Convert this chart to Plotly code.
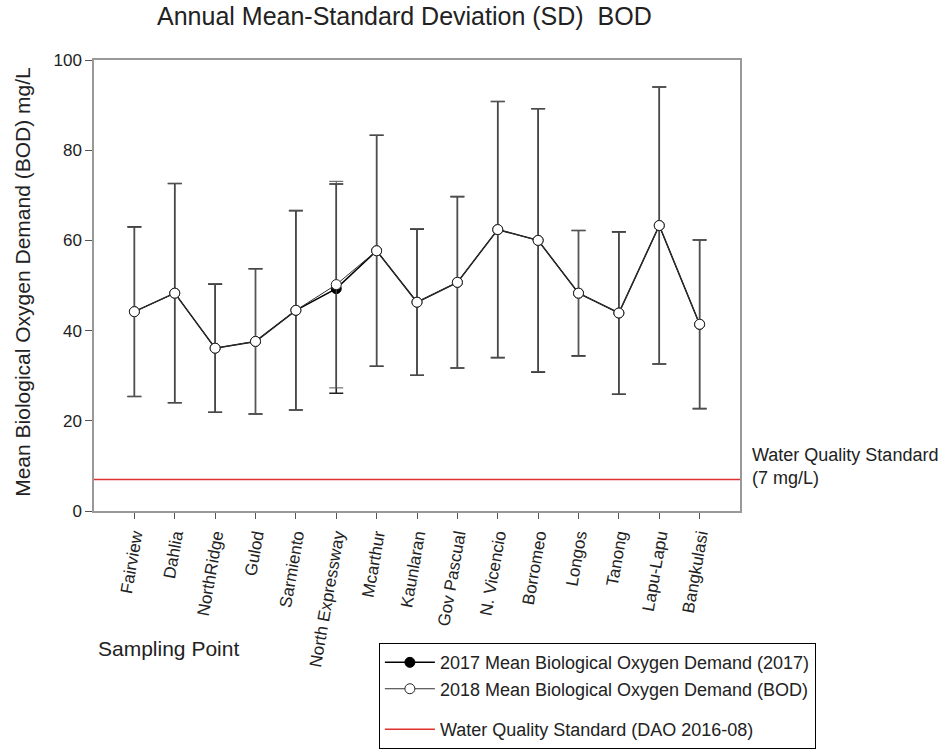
import plotly.graph_objects as go

sites = ["Fairview", "Dahlia", "NorthRidge", "Gulod", "Sarmiento", "North Expressway",
         "Mcarthur", "Kaunlaran", "Gov Pascual", "N. Vicencio", "Borromeo", "Longos",
         "Tanong", "Lapu-Lapu", "Bangkulasi"]

mean_2018 = [44.2, 48.3, 36.1, 37.6, 44.5, 50.2, 57.7, 46.3, 50.7, 62.4, 60.0, 48.3, 43.9, 63.3, 41.4]
sd_2018 = [18.8, 24.3, 14.2, 16.1, 22.1, 22.9, 25.6, 16.2, 19.0, 28.4, 29.2, 13.9, 18.0, 30.7, 18.7]

mean_2017 = [44.2, 48.3, 36.1, 37.6, 44.5, 49.3, 57.7, 46.3, 50.7, 62.4, 60.0, 48.3, 43.9, 63.3, 41.4]
sd_2017 = [18.8, 24.3, 14.2, 16.1, 22.1, 23.2, 25.6, 16.2, 19.0, 28.4, 29.2, 13.9, 18.0, 30.7, 18.7]

standard = 7
y_ticks = [0, 20, 40, 60, 80, 100]

FONT = "Liberation Sans, Arial, sans-serif"
x_idx = list(range(len(sites)))
x_range = [-1, len(sites)]

fig = go.Figure()

fig.add_trace(go.Scatter(
    x=x_idx, y=mean_2017, mode="lines+markers",
    name="2017 Mean Biological Oxygen Demand (2017)",
    line=dict(color="black", width=1.5),
    marker=dict(symbol="circle", size=10, color="black", line=dict(color="black", width=1)),
    error_y=dict(type="data", array=sd_2017, color="#222222", thickness=1.6, width=7),
    legendgroup="a",
))
fig.add_trace(go.Scatter(
    x=x_idx, y=mean_2018, mode="lines+markers",
    name="2018 Mean Biological Oxygen Demand (BOD)",
    line=dict(color="#333333", width=1),
    marker=dict(symbol="circle", size=10, color="white", line=dict(color="#222222", width=1)),
    error_y=dict(type="data", array=sd_2018, color="#555555", thickness=1, width=7),
    legendgroup="a",
))
fig.add_trace(go.Scatter(
    x=x_range, y=[standard, standard], mode="lines",
    name="Water Quality Standard (DAO 2016-08)",
    line=dict(color="#e03030", width=1.5),
    legendgroup="b",
))

fig.update_layout(
    width=947, height=752,
    margin=dict(l=94, r=207, t=60, b=241, autoexpand=False),
    paper_bgcolor="white", plot_bgcolor="white",
    font=dict(family=FONT, size=17, color="#222222"),
    title=dict(text="Annual Mean-Standard Deviation (SD)  BOD", x=0.427, xanchor="center",
               y=0.99, yanchor="top", font=dict(size=25, color="#222222")),
    showlegend=True,
    legend=dict(x=0.441, y=-0.293, xanchor="left", yanchor="top",
                bordercolor="black", borderwidth=1, bgcolor="white",
                font=dict(size=18, color="#222222"), tracegroupgap=14,
                itemwidth=50, traceorder="grouped"),
)

fig.update_xaxes(
    range=x_range, tickmode="array", tickvals=x_idx, ticktext=sites,
    tickangle=-80, ticks="outside", ticklen=6, tickcolor="#555555",
    showline=True, linecolor="#999999", linewidth=1.5, mirror=True,
    showgrid=False, zeroline=False, automargin=False,
    tickfont=dict(size=17, color="#222222"),
)
fig.update_yaxes(
    range=[0, 100], tickmode="array", tickvals=y_ticks,
    ticks="outside", ticklen=7, tickcolor="#555555",
    showline=True, linecolor="#999999", linewidth=1.5, mirror=True,
    showgrid=False, zeroline=False, automargin=False,
    tickfont=dict(size=17, color="#222222"),
)

fig.add_annotation(text="Mean Biological Oxygen Demand (BOD) mg/L", xref="paper", yref="paper",
                   x=-0.11, y=0.508, xanchor="center", yanchor="middle", textangle=-90,
                   showarrow=False, font=dict(size=21, color="#222222"))
fig.add_annotation(text="Water Quality Standard<br>(7 mg/L)", xref="paper", yref="paper",
                   x=1.016, y=0.099, xanchor="left", yanchor="middle", align="left",
                   showarrow=False, font=dict(size=18, color="#222222"))
fig.add_annotation(text="Sampling Point", xref="paper", yref="paper",
                   x=0.003, y=-0.304, xanchor="left", yanchor="middle",
                   showarrow=False, font=dict(size=21, color="#222222"))

fig.write_html("out.html")
